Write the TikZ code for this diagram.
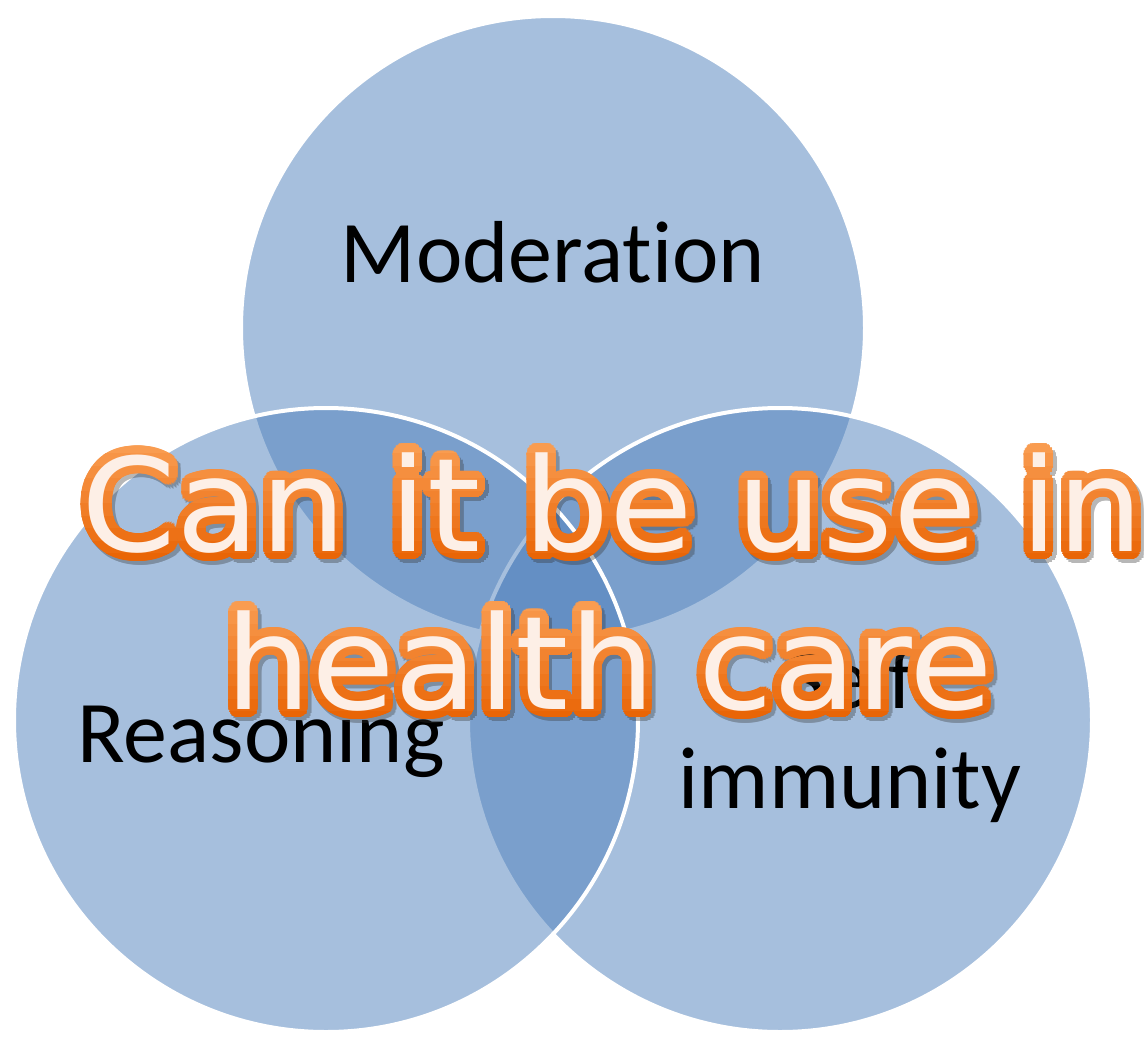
\documentclass[tikz,border=0pt]{standalone}
\usepackage{fontspec}
\setmainfont{Carlito}[Ligatures=CommonOff]
\newfontfamily\bigfont{DejaVu Sans}[FakeStretch=1.045]
\usetikzlibrary{calc}
\definecolor{circblue}{HTML}{4F81BD}
\definecolor{cream}{HTML}{FDEFE6}
\definecolor{orTop}{HTML}{F99C50}
\definecolor{orBot}{HTML}{E96506}
\begin{document}
\begin{tikzpicture}[x=1pt,y=-1pt,
  venn/.style={circle, minimum size=624pt, inner sep=0pt, fill=circblue, fill opacity=0.5, draw=white, line width=4pt},
  vlabel/.style={font=\fontsize{88}{100}\selectfont, text=black, anchor=base, inner sep=0pt},
  bigline/.style={font=\bigfont\fontsize{130}{160}\selectfont, anchor=base, inner sep=0pt}]
\useasboundingbox (0,0) rectangle (1144,1037);
\fill[white] (0,0) rectangle (1144,1037);
% circles
\node[venn] (topc) at (553,328) {};
\node[venn] (rightc) at (780,720) {};
\node[venn] (leftc) at (326,720) {};
% labels
\node[vlabel] (moderation) at (553,282) {Moderation};
\node[vlabel] (reasoning) at (261,762) {Reasoning};
\node[vlabel] (self) at (850,708) {Self};
\node[vlabel] (immunity) at (850,808) {immunity};
% big word-art text: shadow
\begin{scope}[transparency group, opacity=0.35]
\foreach \a in {0,20,...,340} {
  \node[bigline, text=black!80] (shadowA\a) at ($(613,551)+(\a:9pt)+(3,4)$) {Can it be use in};
  \node[bigline, text=black!80] (shadowB\a) at ($(609,709)+(\a:9pt)+(3,4)$) {health care};
}
\end{scope}
% orange outline with vertical gradient (bands)
\foreach \ly/\txt/\cx/\T in {551/{Can it be use in}/613/442, 709/{health care}/609/600} {
  \foreach \k in {0,...,9} {
    \pgfmathtruncatemacro\p{100-\k*100/9}
    \pgfmathsetmacro\ya{\k==0 ? \T-40 : \T+\k*12.5-0.6}
    \pgfmathsetmacro\yb{\k==9 ? \T+170 : \T+(\k+1)*12.5}
    \begin{scope}
      \clip (0,\ya) rectangle (1144,\yb);
      \foreach \a in {0,12,...,348} {
        \node[bigline, text={orTop!\p!orBot}] (o-\ly-\k-\a) at ($(\cx,\ly)+(\a:8.5pt)$) {\txt};
      }
    \end{scope}
  }
}
% cream fill
\node[bigline, text=cream] (line1) at (613,551) {Can it be use in};
\node[bigline, text=cream] (line2) at (609,709) {health care};
\end{tikzpicture}
\end{document}
